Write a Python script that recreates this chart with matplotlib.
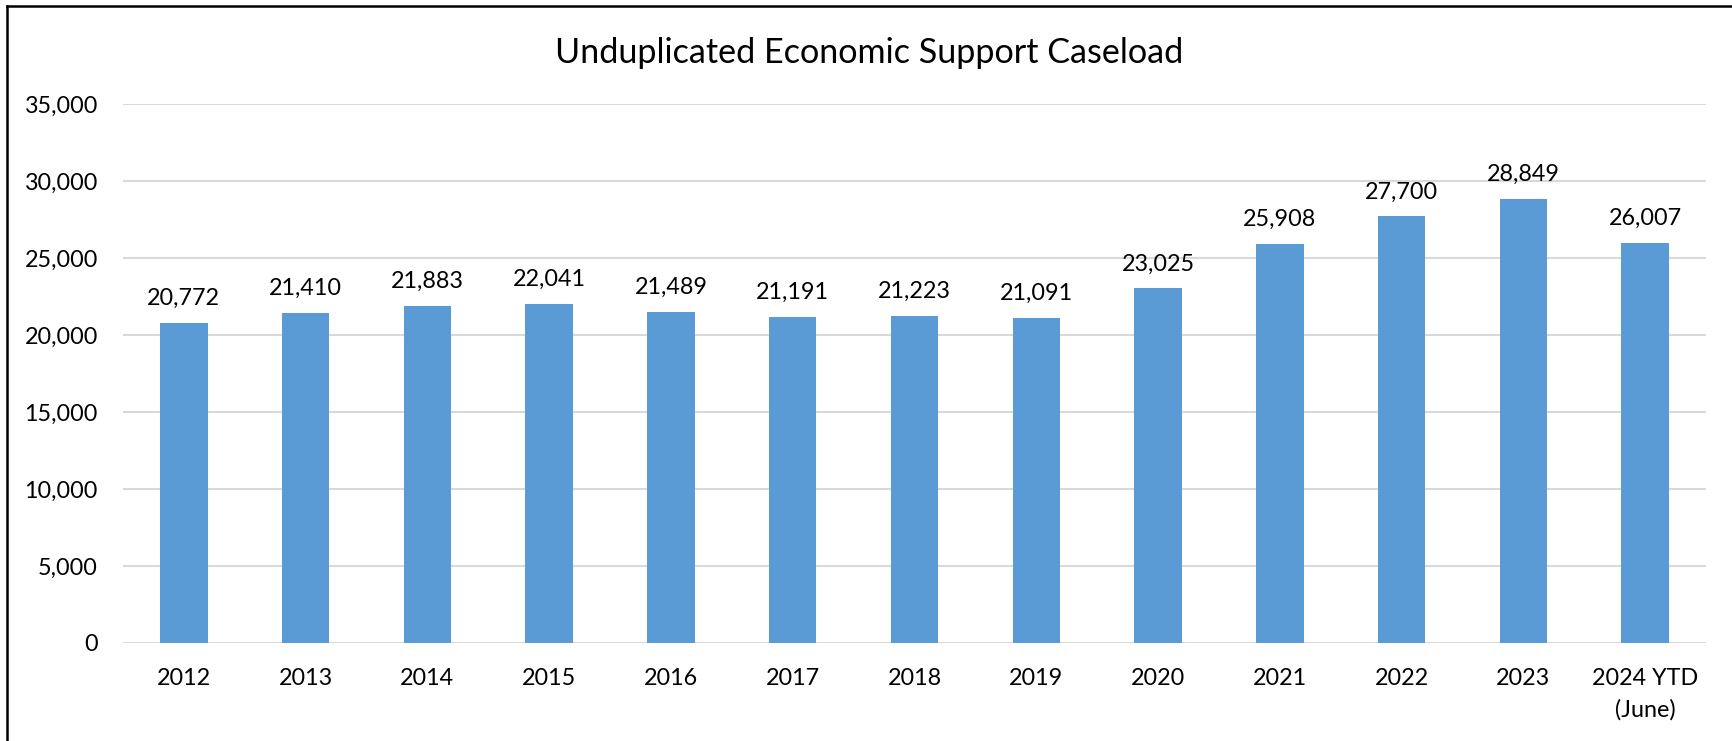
import matplotlib.pyplot as plt
from matplotlib.lines import Line2D
from matplotlib.ticker import FuncFormatter
import numpy as np

plt.rcParams["font.family"] = ["Lato", "DejaVu Sans"]

years = ["2012", "2013", "2014", "2015", "2016", "2017", "2018",
         "2019", "2020", "2021", "2022", "2023", "2024 YTD\n(June)"]
caseload = [20772, 21410, 21883, 22041, 21489, 21191, 21223,
            21091, 23025, 25908, 27700, 28849, 26007]

fig = plt.figure(figsize=(17.32, 7.41), dpi=100)
ax = fig.add_axes([0.0710, 0.1323, 0.9140, 0.7273])

x = np.arange(len(years))
bars = ax.bar(x, caseload, width=0.39, color="#5B9BD5", zorder=3)

# value labels above each bar
for rect, val in zip(bars, caseload):
    ax.annotate(f"{val:,}", (rect.get_x() + rect.get_width() / 2, val),
                xytext=(0, 13), textcoords="offset points",
                ha="center", va="baseline", fontsize=16.8, color="black")

ax.set_xlim(-0.5, len(years) - 0.5)
ax.set_ylim(0, 35000)
ax.set_yticks(np.arange(0, 35001, 5000))
ax.yaxis.set_major_formatter(FuncFormatter(lambda v, p: f"{int(v):,}"))
ax.set_xticks(x)
ax.set_xticklabels(years, linespacing=1.6, va="top")

ax.grid(axis="y", color="#D9D9D9", linewidth=1.5, zorder=0)
for s in ax.spines.values():
    s.set_visible(False)
ax.tick_params(axis="both", length=0, labelsize=16.8)
ax.tick_params(axis="y", pad=18)
ax.tick_params(axis="x", pad=18)

fig.text(0.502, 0.928, "Unduplicated Economic Support Caseload",
         ha="center", va="center", fontsize=24.6)

# outer frame (top and left edges)
fig.add_artist(Line2D([0.0042, 1.0], [0.9915, 0.9915], color="black", lw=1.8))
fig.add_artist(Line2D([0.0042, 0.0042], [0.0, 0.9915], color="black", lw=1.8))

fig.savefig("out.png", dpi=100)
